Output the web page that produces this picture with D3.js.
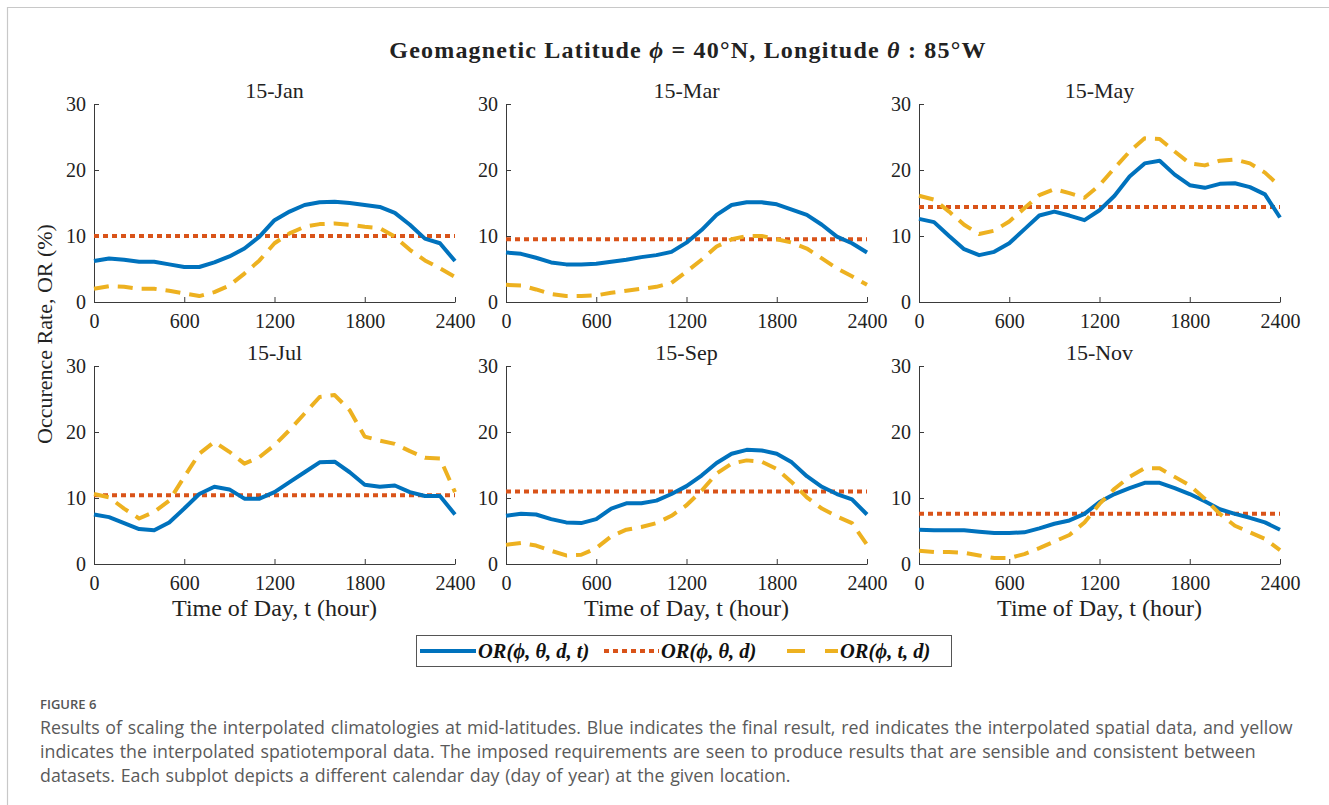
<!DOCTYPE html>
<html>
<head>
<meta charset="utf-8">
<script src="https://cdn.jsdelivr.net/npm/d3@7/dist/d3.min.js"></script>
<style>
  html, body { margin: 0; padding: 0; background: #fff; }
  svg { display: block; }
</style>
</head>
<body>
<svg id="chart" width="1329" height="805"></svg>
<script>
// ---------------- DATA ----------------
const hours = [0,100,200,300,400,500,600,700,800,900,1000,1100,1200,1300,1400,1500,1600,1700,1800,1900,2000,2100,2200,2300,2400];
const panelTitles = ["15-Jan", "15-Mar", "15-May", "15-Jul", "15-Sep", "15-Nov"];
const xTicks = [0, 600, 1200, 1800, 2400];
const yTicks = [0, 10, 20, 30];

// OR(phi, theta, d, t) -- final result (blue)
const blueJan = [6.2,6.6,6.4,6.1,6.1,5.7,5.3,5.3,6.0,6.9,8.1,9.9,12.4,13.7,14.7,15.1,15.2,15.0,14.7,14.4,13.5,11.7,9.6,8.9,6.2];
const blueMar = [7.5,7.3,6.7,6.0,5.7,5.7,5.8,6.1,6.4,6.8,7.1,7.6,9.0,10.9,13.2,14.7,15.1,15.1,14.8,14.0,13.2,11.7,9.9,8.9,7.5];
const blueMay = [12.6,12.1,10.0,8.0,7.1,7.6,8.9,11.0,13.1,13.7,13.1,12.4,13.9,16.1,19.0,21.0,21.4,19.3,17.7,17.3,17.9,18.0,17.4,16.3,12.8];
const blueJul = [7.5,7.1,6.2,5.3,5.1,6.3,8.4,10.6,11.7,11.3,9.9,9.9,10.9,12.4,13.9,15.4,15.5,13.9,12.0,11.7,11.9,10.9,10.3,10.3,7.5];
const blueSep = [7.3,7.6,7.5,6.8,6.3,6.2,6.8,8.4,9.2,9.2,9.6,10.6,11.8,13.4,15.3,16.7,17.3,17.2,16.7,15.4,13.3,11.7,10.6,9.8,7.5];
const blueNov = [5.2,5.1,5.1,5.1,4.9,4.7,4.7,4.8,5.4,6.1,6.6,7.6,9.4,10.6,11.5,12.3,12.3,11.5,10.6,9.5,8.3,7.6,7.0,6.3,5.2];

// OR(phi, theta, d) -- interpolated spatial data (red, constant)
const redLevels = [10.0, 9.5, 14.4, 10.4, 11.0, 7.6];

// OR(phi, t, d) -- interpolated spatiotemporal data (yellow)
const yellowJan = [2.0,2.4,2.3,2.0,2.0,1.7,1.3,0.9,1.5,2.5,4.3,6.3,8.9,10.4,11.4,11.8,11.9,11.7,11.4,11.2,9.9,7.9,6.3,5.1,3.8];
const yellowMar = [2.6,2.5,1.9,1.2,0.9,0.9,1.0,1.4,1.7,2.0,2.3,2.9,4.6,6.4,8.4,9.5,10.0,10.0,9.5,9.0,8.1,6.6,5.1,3.9,2.6];
const yellowMay = [16.1,15.5,13.7,11.7,10.3,10.8,12.2,14.2,16.2,17.1,16.5,15.8,17.7,20.3,22.8,24.8,24.7,22.8,21.0,20.7,21.4,21.6,21.0,19.6,17.5];
const yellowJul = [10.6,10.1,8.4,6.9,7.9,9.6,13.2,16.7,18.5,17.0,15.2,16.2,18.0,20.3,22.8,25.3,25.6,23.3,19.3,18.7,18.2,17.1,16.1,16.0,10.9];
const yellowSep = [2.9,3.2,2.8,2.0,1.3,1.4,2.4,4.2,5.2,5.6,6.2,7.3,8.9,11.1,13.7,15.2,15.7,15.5,14.4,12.4,10.1,8.4,7.2,6.2,2.9];
const yellowNov = [2.0,1.8,1.8,1.7,1.3,0.9,0.9,1.5,2.4,3.4,4.4,6.3,9.1,11.4,13.2,14.5,14.5,13.2,11.9,9.9,7.6,5.8,4.8,3.8,2.1];

const blueSeries = [blueJan, blueMar, blueMay, blueJul, blueSep, blueNov];
const yellowSeries = [yellowJan, yellowMar, yellowMay, yellowJul, yellowSep, yellowNov];

const legendLabels = ["OR(\u03D5, \u03B8, d, t)", "OR(\u03D5, \u03B8, d)", "OR(\u03D5, t, d)"];

// ---------------- STYLE ----------------
const BLUE = "#0072BD", RED = "#D95319", YEL = "#EDB120";
const serif = "'Liberation Serif', 'Times New Roman', serif";
const colX = [94, 506, 919];
const rowY = [104, 366];
const PW = 361, PH = 198;

const svg = d3.select("#chart");

// Outer frame
svg.append("path")
  .attr("d", "M7.5,805 L7.5,7.5 L1329,7.5")
  .attr("fill", "none").attr("stroke", "#c8c8c8").attr("stroke-width", 1.2);

// Main title
const mt = svg.append("text")
  .attr("x", 688).attr("y", 58).attr("text-anchor", "middle")
  .attr("font-family", serif).attr("font-size", 24).attr("font-weight", "bold")
  .attr("letter-spacing", 1.2).attr("fill", "#222");
mt.append("tspan").text("Geomagnetic Latitude ");
mt.append("tspan").attr("font-style", "italic").text("\u03D5");
mt.append("tspan").text(" = 40\u00B0N, Longitude ");
mt.append("tspan").attr("font-style", "italic").text("\u03B8");
mt.append("tspan").text(" : 85\u00B0W");

// Panels
panelTitles.forEach((title, i) => {
  const c = i % 3, r = Math.floor(i / 3);
  const g = svg.append("g").attr("transform", `translate(${colX[c]},${rowY[r]})`);
  const x = d3.scaleLinear().domain([0, 2400]).range([0, PW]);
  const y = d3.scaleLinear().domain([0, 30]).range([PH, 0]);

  // axes
  const xAxis = d3.axisBottom(x).tickValues(xTicks).tickFormat(d3.format("d"))
    .tickSizeInner(-5).tickSizeOuter(0).tickPadding(12);
  const yAxis = d3.axisLeft(y).tickValues(yTicks).tickFormat(d3.format("d"))
    .tickSizeInner(-5).tickSizeOuter(0).tickPadding(8);
  const gx = g.append("g").attr("transform", `translate(0,${PH})`).call(xAxis);
  const gy = g.append("g").call(yAxis);
  [gx, gy].forEach(ax => {
    ax.select(".domain").attr("stroke", "#3a3a3a").attr("stroke-width", 1);
    ax.selectAll(".tick line").attr("stroke", "#3a3a3a").attr("stroke-width", 1);
    ax.selectAll(".tick text").attr("font-family", serif).attr("font-size", 20).attr("fill", "#222");
  });
  gx.selectAll(".tick text").attr("dy", "0.71em");

  // title
  g.append("text").attr("x", PW / 2).attr("y", -6).attr("text-anchor", "middle")
    .attr("font-family", serif).attr("font-size", 22).attr("fill", "#222").text(title);

  const line = d3.line().x((d, k) => x(hours[k])).y(d => y(d));

  // red (constant)
  g.append("line")
    .attr("x1", x(0)).attr("x2", x(2400))
    .attr("y1", y(redLevels[i])).attr("y2", y(redLevels[i]))
    .attr("stroke", RED).attr("stroke-width", 4).attr("stroke-dasharray", "5,4");

  // blue
  g.append("path").datum(blueSeries[i]).attr("d", line)
    .attr("fill", "none").attr("stroke", BLUE).attr("stroke-width", 4)
    .attr("stroke-linejoin", "round");

  // yellow
  g.append("path").datum(yellowSeries[i]).attr("d", line)
    .attr("fill", "none").attr("stroke", YEL).attr("stroke-width", 4)
    .attr("stroke-dasharray", "15,9").attr("stroke-linejoin", "round");

  if (r === 1) {
    g.append("text").attr("x", PW / 2).attr("y", 250).attr("text-anchor", "middle")
      .attr("font-family", serif).attr("font-size", 24).attr("fill", "#222").text("Time of Day, t (hour)");
  }
});

// Y axis label
svg.append("text")
  .attr("transform", "translate(52,334) rotate(-90)")
  .attr("text-anchor", "middle")
  .attr("font-family", serif).attr("font-size", 22).attr("fill", "#222")
  .text("Occurence Rate, OR (%)");

// Legend
const lg = svg.append("g");
lg.append("rect").attr("x", 416.5).attr("y", 635.5).attr("width", 535).attr("height", 31)
  .attr("fill", "#fff").attr("stroke", "#555").attr("stroke-width", 1);
const legItems = [
  { x1: 420, x2: 476, color: BLUE, dash: null, tx: 478 },
  { x1: 604, x2: 659, color: RED, dash: "5,4", tx: 661 },
  { x1: 787, x2: 838, color: YEL, dash: "18,20", tx: 840 }
];
legItems.forEach((it, k) => {
  lg.append("line").attr("x1", it.x1).attr("x2", it.x2).attr("y1", 651).attr("y2", 651)
    .attr("stroke", it.color).attr("stroke-width", 4)
    .attr("stroke-dasharray", it.dash);
  lg.append("text").attr("x", it.tx).attr("y", 658)
    .attr("font-family", serif).attr("font-size", 20.5).attr("font-weight", "bold").attr("font-style", "italic")
    .attr("fill", "#111").text(legendLabels[k]);
});

// Caption
const capFont = "'Open Sans', 'Noto Sans', sans-serif";
svg.append("text").attr("x", 40).attr("y", 709)
  .attr("font-family", capFont).attr("font-size", 13).attr("font-weight", 600).attr("fill", "#555")
  .text("FIGURE 6");
const capLines = [
  "Results of scaling the interpolated climatologies at mid-latitudes. Blue indicates the final result, red indicates the interpolated spatial data, and yellow",
  "indicates the interpolated spatiotemporal data. The imposed requirements are seen to produce results that are sensible and consistent between",
  "datasets. Each subplot depicts a different calendar day (day of year) at the given location."
];
capLines.forEach((t, k) => {
  svg.append("text").attr("x", 40).attr("y", 734 + k * 24)
    .attr("font-family", capFont).attr("font-size", 17.8).attr("word-spacing", 1.1)
    .attr("fill", "#5a5a5a").text(t);
});
</script>
</body>
</html>
